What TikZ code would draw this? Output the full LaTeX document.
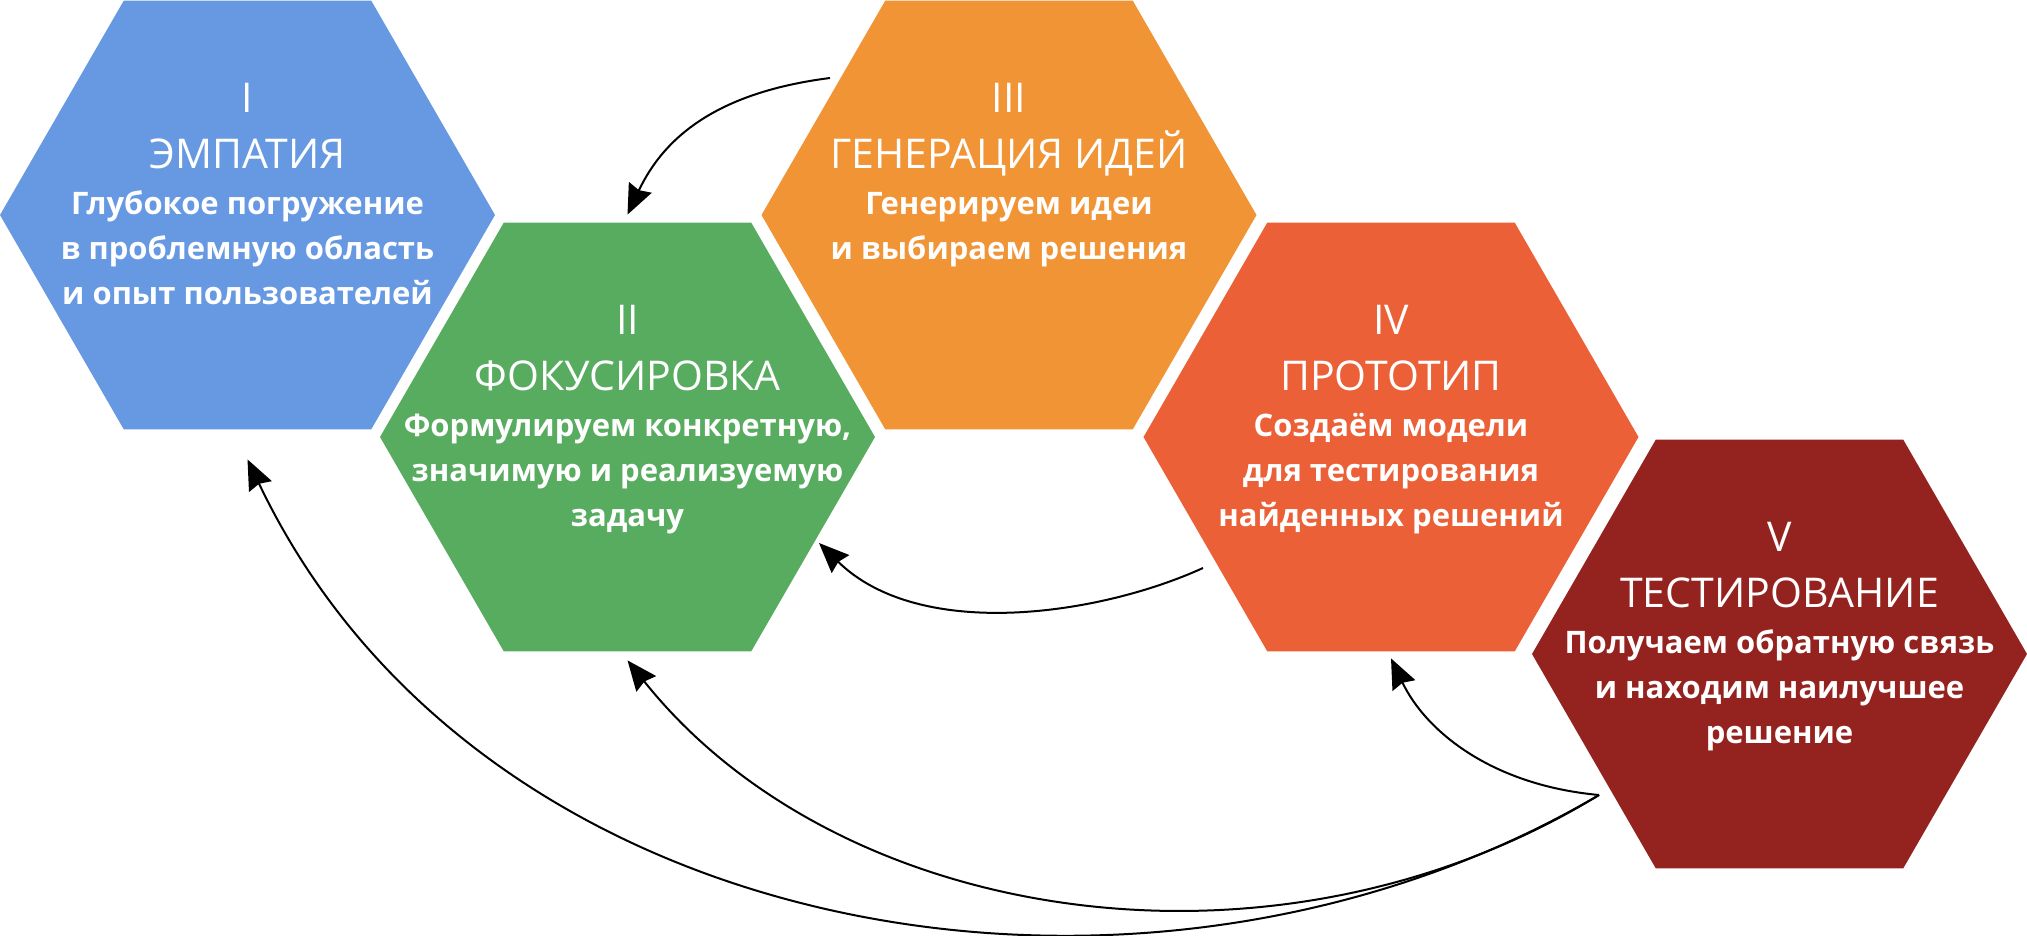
\documentclass[tikz,border=0pt]{standalone}
\usepackage{fontspec}
\setmainfont{Open Sans}
\usetikzlibrary{positioning,shapes.geometric,arrows.meta}

\definecolor{empblue}{RGB}{102,153,226}
\definecolor{focgreen}{RGB}{88,172,96}
\definecolor{genorange}{RGB}{240,148,54}
\definecolor{protored}{RGB}{235,96,54}
\definecolor{testred}{RGB}{148,35,32}

\tikzset{
  hexa/.style={regular polygon, regular polygon sides=6, minimum size=495pt,
    inner sep=0pt, outer sep=0pt, draw=none},
  stagetext/.style={text=white, align=center, inner sep=0pt,
    font=\fontsize{31}{44.6}\selectfont\bfseries},
  feedback/.style={-{Stealth[length=30pt,width=25pt,inset=3pt]}, line width=2pt},
}
\newcommand{\stitle}[1]{{\fontsize{41}{44.6}\selectfont\mdseries #1}}

\begin{document}
\begin{tikzpicture}[x=1pt, y=-1pt]
    \useasboundingbox (0,0) rectangle (2027,936);

    % Hexagons
    \node[hexa, fill=empblue]   (h1) at (247.5,215) {};
    \node[hexa, fill=focgreen]  (h2) at (627.5,437) {};
    \node[hexa, fill=genorange] (h3) at (1009,215) {};
    \node[hexa, fill=protored]  (h4) at (1391,437) {};
    \node[hexa, fill=testred]   (h5) at (1779.5,654) {};

    % Stage texts
    \node[stagetext, below=82pt of h1.north] (t1)
        {\stitle{I}\\[11.6pt]\stitle{ЭМПАТИЯ}\\[2pt]Глубокое погружение\\в проблемную область\\и опыт пользователей};
    \node[stagetext, below=82pt of h2.north] (t2)
        {\stitle{II}\\[11.6pt]\stitle{ФОКУСИРОВКА}\\[2pt]Формулируем конкретную,\\значимую и реализуемую\\задачу};
    \node[stagetext, below=82pt of h3.north] (t3)
        {\stitle{III}\\[11.6pt]\stitle{ГЕНЕРАЦИЯ ИДЕЙ}\\[2pt]Генерируем идеи\\и выбираем решения};
    \node[stagetext, below=82pt of h4.north] (t4)
        {\stitle{IV}\\[11.6pt]\stitle{ПРОТОТИП}\\[2pt]Создаём модели\\для тестирования\\найденных решений};
    \node[stagetext, below=82pt of h5.north] (t5)
        {\stitle{V}\\[11.6pt]\stitle{ТЕСТИРОВАНИЕ}\\[2pt]Получаем обратную связь\\и находим наилучшее\\решение};

    % Loops back
    \coordinate (s3) at (830,78);
    \coordinate (s4) at (1203,568);
    \coordinate (s5) at (1599,795);
    \coordinate (e2) at (819,543);
    \draw[feedback] (s3) .. controls (720,92) and (665,135) .. ([yshift=8pt]h2.north);
    \draw[feedback] (s4) .. controls (1100,615) and (920,642) .. (e2);
    \draw[feedback] (s5) .. controls (1490,785) and (1425,730) .. ([yshift=-7pt]h4.south);
    \draw[feedback] (s5) .. controls (1275,993) and (839,926) .. ([yshift=-9pt]h2.south);
    \draw[feedback] (s5) .. controls (1148,1060) and (480,948) .. ([yshift=-30pt]h1.south);
\end{tikzpicture}
\end{document}
